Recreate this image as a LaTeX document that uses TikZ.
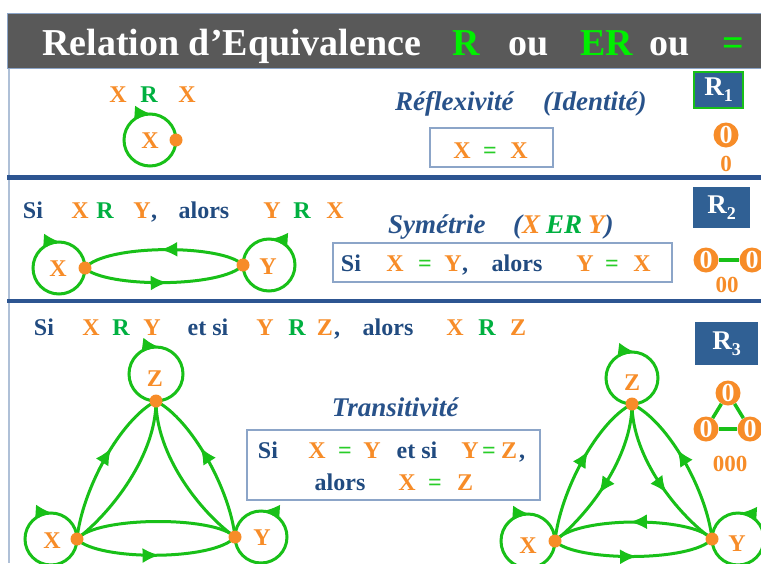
\documentclass[tikz,border=0pt]{standalone}
\usepackage{fontspec}
\setmainfont{Liberation Serif}
\usetikzlibrary{arrows.meta,decorations.markings}
\definecolor{orng}{RGB}{247,140,40}
\definecolor{grl}{RGB}{24,192,24}
\definecolor{grt}{RGB}{0,176,64}
\definecolor{greq}{RGB}{40,205,40}
\definecolor{grtitle}{RGB}{0,240,0}
\definecolor{dblue}{RGB}{33,75,128}
\definecolor{hblue}{RGB}{40,82,138}
\definecolor{sepblue}{RGB}{45,85,145}
\definecolor{rbox}{RGB}{48,96,148}
\definecolor{titlegray}{RGB}{89,89,89}
\definecolor{boxedge}{RGB}{140,165,200}
\definecolor{leftedge}{RGB}{175,192,215}
\begin{document}
\begin{tikzpicture}[x=1pt,y=-1pt,
  tx/.style={inner sep=0pt, anchor=base, font=\bfseries\fontsize{24}{26}\selectfont},
  ot/.style={tx, text=orng},
  gt/.style={tx, text=grt},
  qt/.style={tx, text=greq},
  bt/.style={tx, text=dblue},
  ttl/.style={inner sep=0pt, anchor=base, font=\bfseries\fontsize{38}{40}\selectfont},
  head/.style={inner sep=0pt, anchor=base west, text=hblue, font=\bfseries\itshape\fontsize{27}{30}\selectfont},
  dot/.style={circle, fill=orng, inner sep=0pt, minimum size=13pt},
  ring/.style={draw=grl, grl, line width=3pt},
  edge/.style={draw=grl, grl, line width=3pt},
  mid/.style={postaction={decorate}, decoration={markings, mark=at position #1 with {\arrow{Latex[length=17pt,width=15pt]}}}},
  frame/.style={draw=boxedge, line width=1.2pt, inner sep=0pt},
  rb/.style={fill=rbox, text=white, inner sep=0pt, font=\bfseries\fontsize{27}{28}\selectfont},
  zc/.style={circle, fill=orng, text=white, inner sep=0pt, minimum size=25pt, font=\bfseries\fontsize{26}{26}\selectfont},
  zt/.style={inner sep=0pt, anchor=base, text=orng, font=\bfseries\fontsize{23}{23}\selectfont},
  zl/.style={draw=grl, line width=3.5pt}]
\useasboundingbox (0,0) rectangle (761,563);
\clip (0,0) rectangle (761,563);
\fill[white] (0,0) rectangle (761,563);

% frame
\draw[leftedge, line width=1.5pt] (9,68) -- (9,563);
\node[fill=titlegray, draw=boxedge, line width=1pt, minimum width=756pt, minimum height=55pt, anchor=north west, inner sep=0pt] (title) at (7,13) {};
\draw[sepblue, line width=4.5pt] (7,177.5) -- (761,177.5);
\draw[sepblue, line width=4.5pt] (7,301) -- (761,301);

% title
\node[ttl, anchor=base west, text=white] (tt1) at (42,55) {Relation d’Equivalence};
\node[ttl, text=grtitle] (tt2) at (466,55) {R};
\node[ttl, text=white] (tt3) at (529,55) {ou};
\node[ttl, text=grtitle] (tt4) at (607,55) {ER};
\node[ttl, text=white] (tt5) at (670,55) {ou};
\node[ttl, text=grtitle] (tt6) at (733,55) {=};

% ---------- section 1
\node[ot] (a1) at (118,102) {X};
\node[gt] (a2) at (149,102) {R};
\node[ot] (a3) at (187,102) {X};
\coordinate (aX) at (176,140);
\draw[ring, mid=0.76] (aX) arc[start angle=0, end angle=360, radius=26];
\node[dot] (aXd) at (aX) {};
\node[ot] (a4) at (150,148) {X};
\node[head] (h1) at (395,110) {Réflexivité};
\node[head] (h2) at (543,110) {(Identité)};
\node[frame, minimum width=123pt, minimum height=39pt] (b1) at (491.5,147.5) {};
\node[ot] (a5) at (462,158) {X};
\node[qt] (a6) at (490,158) {=};
\node[ot] (a7) at (519,158) {X};
\node[rb, draw=grl, line width=1.2pt, minimum width=49pt, minimum height=36pt] (R1) at (718.5,90) {R\raisebox{-6pt}{\fontsize{18}{18}\selectfont 1}};
\node[zc] (z1) at (726,135) {0};
\node[zt] (z1t) at (726,171) {0};

% ---------- section 2
\node[bt] (b2a) at (33,218) {Si};
\node[ot] (b2b) at (80,218) {X};
\node[gt] (b2c) at (105,218) {R};
\node[ot] (b2d) at (142,218) {Y};
\node[bt] (b2e) at (154,218) {,};
\node[bt] (b2f) at (204,218) {alors};
\node[ot] (b2g) at (272,218) {Y};
\node[gt] (b2h) at (302,218) {R};
\node[ot] (b2i) at (335,218) {X};
\coordinate (sX) at (85,268);
\coordinate (sY) at (243,265);
\draw[ring, mid=0.76] (sX) arc[start angle=0, end angle=360, radius=26];
\draw[ring, mid=0.74] (sY) arc[start angle=180, end angle=-180, radius=26];
\draw[edge, mid=0.52] (sY) .. controls (223,244) and (105,244) .. (sX);
\draw[edge, mid=0.52] (sX) .. controls (105,288) and (223,288) .. (sY);
\node[dot] (sXd) at (sX) {};
\node[dot] (sYd) at (sY) {};
\node[ot] (b2j) at (58,276) {X};
\node[ot] (b2k) at (268,274) {Y};
\node[head] (h3) at (388,233) {Symétrie};
\node[head] (h4) at (513,233) {(\textcolor{orng}{X}\hspace{6pt}\textcolor{grt}{ER}\hspace{6pt}\textcolor{orng}{Y})};
\node[frame, minimum width=339pt, minimum height=39pt] (b2) at (502.5,262.5) {};
\node[bt] (c1) at (351,271) {Si};
\node[ot] (c2) at (395,271) {X};
\node[qt] (c3) at (425,271) {=};
\node[ot] (c4) at (453,271) {Y};
\node[bt] (c5) at (465,271) {,};
\node[bt] (c6) at (517,271) {alors};
\node[ot] (c7) at (585,271) {Y};
\node[qt] (c8) at (612,271) {=};
\node[ot] (c9) at (642,271) {X};
\node[rb, minimum width=57pt, minimum height=41pt] (R2) at (721.5,207.5) {R\raisebox{-6pt}{\fontsize{18}{18}\selectfont 2}};
\node[zc] (z2a) at (706,260) {0};
\node[zc] (z2b) at (752,260) {0};
\draw[zl] (z2a) -- (z2b);
\node[zt] (z2t) at (727,292) {00};

% ---------- section 3
\node[bt] (d1) at (44,335) {Si};
\node[ot] (d2) at (91,335) {X};
\node[gt] (d3) at (121,335) {R};
\node[ot] (d4) at (152,335) {Y};
\node[bt] (d5) at (208,335) {et si};
\node[ot] (d6) at (265,335) {Y};
\node[gt] (d7) at (297,335) {R};
\node[ot] (d8) at (325,335) {Z};
\node[bt] (d9) at (337,335) {,};
\node[bt] (d10) at (388,335) {alors};
\node[ot] (d11) at (455,335) {X};
\node[gt] (d12) at (487,335) {R};
\node[ot] (d13) at (518,335) {Z};

\node[head, anchor=base] (h5) at (395,416) {Transitivité};
\node[frame, minimum width=293pt, minimum height=70pt] (b3) at (393.5,465) {};
\node[bt] (e1) at (268,458) {Si};
\node[ot] (e2) at (317,458) {X};
\node[qt] (e3) at (345,458) {=};
\node[ot] (e4) at (372,458) {Y};
\node[bt] (e5) at (417,458) {et si};
\node[ot] (e6) at (470,458) {Y};
\node[qt] (e7) at (489,458) {=};
\node[ot] (e8) at (509,458) {Z};
\node[bt] (e9) at (522,458) {,};
\node[bt] (e10) at (340,490) {alors};
\node[ot] (e11) at (407,490) {X};
\node[qt] (e12) at (435,490) {=};
\node[ot] (e13) at (465,490) {Z};

% left triangle
\coordinate (lX) at (77,539);
\coordinate (lY) at (235,537);
\coordinate (lZ) at (156,401);
\draw[ring, mid=0.52] (lZ) arc[start angle=90, end angle=450, radius=27];
\draw[ring, mid=0.76] (lX) arc[start angle=0, end angle=360, radius=26];
\draw[ring, mid=0.74] (lY) arc[start angle=180, end angle=-180, radius=26];
\draw[edge, mid=0.6] (lX) .. controls (82,490) and (120,420) .. (lZ);
\draw[edge] (lZ) .. controls (156,455) and (112,512) .. (lX);
\draw[edge, mid=0.6] (lY) .. controls (230,490) and (192,420) .. (lZ);
\draw[edge] (lZ) .. controls (156,455) and (200,512) .. (lY);
\draw[edge] (lY) .. controls (215,516) and (97,516) .. (lX);
\draw[edge, mid=0.52] (lX) .. controls (97,561) and (215,561) .. (lY);
\node[dot] (lXd) at (lX) {};
\node[dot] (lYd) at (lY) {};
\node[dot] (lZd) at (lZ) {};
\node[ot] (f1) at (155,386) {Z};
\node[ot] (f2) at (52,548) {X};
\node[ot] (f3) at (262,545) {Y};

% right triangle
\coordinate (rX) at (555,541);
\coordinate (rY) at (712,539);
\coordinate (rZ) at (632,404);
\draw[ring, mid=0.52] (rZ) arc[start angle=90, end angle=450, radius=26];
\draw[ring, mid=0.76] (rX) arc[start angle=0, end angle=360, radius=27];
\draw[ring, mid=0.74] (rY) arc[start angle=180, end angle=-180, radius=26];
\draw[edge, mid=0.6] (rX) .. controls (560,492) and (597,422) .. (rZ);
\draw[edge, mid=0.6] (rZ) .. controls (632,457) and (589,514) .. (rX);
\draw[edge, mid=0.6] (rY) .. controls (707,492) and (669,422) .. (rZ);
\draw[edge, mid=0.6] (rZ) .. controls (632,457) and (677,514) .. (rY);
\draw[edge, mid=0.52] (rY) .. controls (692,516) and (575,516) .. (rX);
\draw[edge, mid=0.52] (rX) .. controls (575,562) and (692,562) .. (rY);
\node[dot] (rXd) at (rX) {};
\node[dot] (rYd) at (rY) {};
\node[dot] (rZd) at (rZ) {};
\node[ot] (g1) at (632,390) {Z};
\node[ot] (g2) at (528,553) {X};
\node[ot] (g3) at (737,551) {Y};

\node[rb, minimum width=63pt, minimum height=43pt] (R3) at (726.5,343.5) {R\raisebox{-6pt}{\fontsize{18}{18}\selectfont 3}};
\node[zc] (z3t) at (728,393) {0};
\node[zc] (z3l) at (706,429) {0};
\node[zc] (z3r) at (750,429) {0};
\draw[zl] (z3t) -- (z3l);
\draw[zl] (z3t) -- (z3r);
\draw[zl] (z3l) -- (z3r);
\node[zt] (z3x) at (730,471) {000};
\end{tikzpicture}
\end{document}
